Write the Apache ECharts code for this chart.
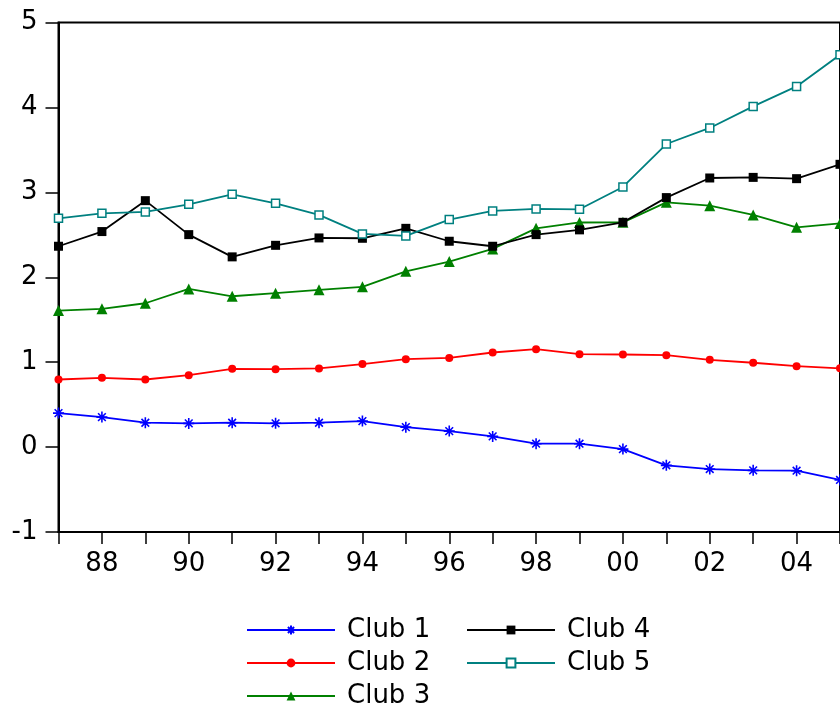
<!DOCTYPE html>
<html>
<head>
<meta charset="utf-8">
<script src="https://cdn.jsdelivr.net/npm/echarts@6/dist/echarts.min.js"></script>
<style>
html,body{margin:0;padding:0;background:#fff;}
#chart{width:840px;height:706px;}
</style>
</head>
<body>
<div id="chart"></div>
<script>
var years = ['87','88','89','90','91','92','93','94','95','96','97','98','99','00','01','02','03','04','05'];
var club1 = [0.40,0.353,0.287,0.279,0.287,0.28,0.287,0.306,0.235,0.188,0.126,0.04,0.04,-0.024,-0.215,-0.259,-0.274,-0.278,-0.387];
var club2 = [0.796,0.816,0.796,0.847,0.922,0.918,0.926,0.977,1.035,1.05,1.114,1.153,1.094,1.09,1.082,1.028,0.993,0.953,0.927];
var club3 = [1.608,1.628,1.694,1.863,1.776,1.812,1.852,1.887,2.07,2.185,2.334,2.576,2.645,2.647,2.882,2.843,2.734,2.588,2.634];
var club4 = [2.365,2.538,2.902,2.502,2.24,2.376,2.463,2.459,2.576,2.424,2.365,2.502,2.558,2.647,2.938,3.169,3.176,3.161,3.33];
var club5 = [2.694,2.753,2.769,2.859,2.976,2.871,2.734,2.51,2.487,2.679,2.781,2.805,2.8,3.063,3.569,3.758,4.012,4.247,4.62];
var names = ['Club 1','Club 2','Club 3','Club 4','Club 5'];

var FONT = '"DejaVu Sans", sans-serif';
var starPath = 'path://M5,0 L5,10 M0,5 L10,5 M1.5,1.5 L8.5,8.5 M8.5,1.5 L1.5,8.5';

function mk(name, data, color, symbol, size, itemStyle) {
  return {
    name: name, type: 'line', data: data,
    symbol: symbol, symbolSize: size, showSymbol: true,
    lineStyle: {color: color, width: 1.8},
    itemStyle: itemStyle,
    emphasis: {disabled: true},
    animation: false
  };
}

var chart = echarts.init(document.getElementById('chart'), null, {renderer: 'canvas'});
var legendText = {fontFamily: FONT, fontSize: 26, color: '#000', lineHeight: 25, padding: [0, 0, 0, 7]};
chart.setOption({
  backgroundColor: '#fff',
  animation: false,
  grid: {left: 58.5, top: 22.5, right: -6, bottom: 174, show: true, borderColor: '#000', borderWidth: 2, backgroundColor: 'transparent'},
  xAxis: {
    type: 'category', data: years, boundaryGap: false,
    axisLine: {onZero: false, lineStyle: {color: '#000', width: 2}},
    axisTick: {interval: 0, length: 12, lineStyle: {color: '#000', width: 1.5}},
    axisLabel: {interval: function (i) { return i % 2 === 1; }, fontFamily: FONT, fontSize: 26, color: '#000', margin: 19},
    splitLine: {show: false}
  },
  yAxis: {
    type: 'value', min: -1, max: 5, interval: 1,
    axisLine: {show: true, lineStyle: {color: '#000', width: 2}},
    axisTick: {show: true, length: 13, lineStyle: {color: '#000', width: 1.5}},
    axisLabel: {fontFamily: FONT, fontSize: 26, color: '#000', margin: 21},
    splitLine: {show: false}
  },
  legend: [
    {data: names.slice(0, 3), orient: 'vertical', left: 246, top: 617, height: 120, padding: 0, itemWidth: 88, itemHeight: 11, itemGap: 7, textStyle: legendText, selectedMode: false},
    {data: names.slice(3), orient: 'vertical', left: 466, top: 617, height: 120, padding: 0, itemWidth: 88, itemHeight: 11, itemGap: 7, textStyle: legendText, selectedMode: false}
  ],
  series: [
    mk(names[0], club1, '#0000ff', starPath, 11, {color: '#0000ff', borderColor: '#0000ff', borderWidth: 1.6}),
    mk(names[1], club2, '#ff0000', 'circle', 8, {color: '#ff0000', borderWidth: 0}),
    mk(names[2], club3, '#008000', 'triangle', 11, {color: '#008000', borderWidth: 0}),
    mk(names[3], club4, '#000000', 'rect', 9, {color: '#000000', borderWidth: 0}),
    mk(names[4], club5, '#008080', 'rect', 8, {color: '#ffffff', borderColor: '#008080', borderWidth: 1.5})
  ]
});
</script>
</body>
</html>
